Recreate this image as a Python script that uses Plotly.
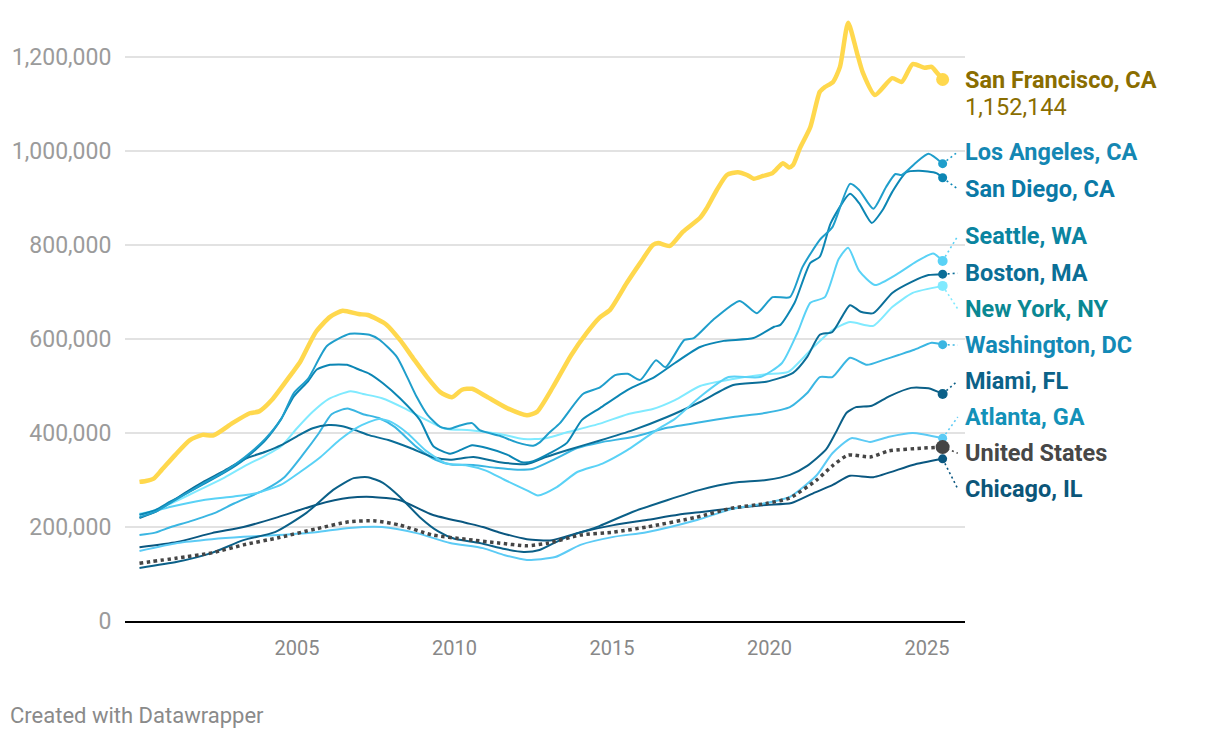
import plotly.graph_objects as go

# ---------------- data (home values, USD) ----------------
sf_x = [2000.0, 2000.2, 2000.45, 2000.7, 2001.13, 2001.6, 2002.0, 2002.35, 2002.95, 2003.5, 2003.8, 2004.2,
        2004.85, 2005.1, 2005.6, 2006.05, 2006.45, 2006.95, 2007.25, 2007.85, 2008.27, 2008.68, 2009.13,
        2009.55, 2009.92, 2010.24, 2010.56, 2011.03, 2011.67, 2012.3, 2012.62, 2013.13, 2013.7, 2014.2,
        2014.6, 2014.94, 2015.47, 2015.9, 2016.3, 2016.47, 2016.84, 2017.25, 2017.8, 2018.0, 2018.33,
        2018.65, 2019.0, 2019.29, 2019.5, 2019.8, 2020.1, 2020.43, 2020.62, 2020.75, 2020.97, 2021.3,
        2021.6, 2021.76, 2022.02, 2022.24, 2022.5, 2022.78, 2022.97, 2023.35, 2023.9, 2024.2, 2024.55,
        2024.93, 2025.15, 2025.3, 2025.5]
sf_v = [296000, 298000, 303000, 321000, 353000, 385000, 396000, 395000, 421000, 442000, 446000, 470000,
        528000, 551000, 615000, 647000, 660000, 653000, 651000, 630000, 598000, 560000, 519000,
        487000, 476000, 492000, 494000, 477000, 453000, 438000, 445000, 498000, 565000, 613000,
        645000, 662000, 719000, 762000, 800000, 804000, 798000, 828000, 858000, 877000, 917000,
        949000, 955000, 949000, 941000, 947000, 953000, 974000, 965000, 970000, 1006000, 1051000,
        1126000, 1136000, 1147000, 1179000, 1273000, 1209000, 1166000, 1119000, 1155000, 1147000, 1185000,
        1177000, 1179000, 1168000, 1152144]

la_x = [2000.0, 2000.5, 2001.0, 2001.5, 2002.0, 2002.7, 2003.35, 2004.0, 2004.5, 2004.9, 2005.35, 2005.95,
        2006.68, 2007.3, 2007.63, 2008.17, 2008.5, 2008.8, 2009.15, 2009.55, 2009.86, 2010.17, 2010.56,
        2010.8, 2011.44, 2011.98, 2012.5, 2012.71, 2013.0, 2013.35, 2014.08, 2014.62, 2015.1, 2015.5,
        2015.9, 2016.4, 2016.7, 2017.3, 2017.6, 2018.2, 2019.06, 2019.6, 2020.1, 2020.65, 2021.05, 2021.6,
        2022.0, 2022.56, 2022.85, 2023.3, 2023.7, 2024.0, 2024.2, 2024.65, 2025.05, 2025.5]
la_v = [221000, 232000, 252000, 272000, 292000, 318000, 349000, 388000, 430000, 485000, 515000, 585000,
        611000, 609000, 598000, 562000, 519000, 477000, 438000, 413000, 409000, 416000, 421000,
        406000, 394000, 380000, 373000, 380000, 400000, 421000, 483000, 497000, 523000, 526000,
        513000, 555000, 540000, 598000, 602000, 640000, 681000, 655000, 689000, 689000, 753000, 811000,
        838000, 930000, 917000, 877000, 923000, 951000, 949000, 975000, 994000, 973000]

sd_x = [2000.0, 2000.5, 2001.0, 2001.5, 2002.0, 2002.7, 2003.35, 2004.0, 2004.5, 2004.9, 2005.35, 2005.63,
        2006.05, 2006.59, 2007.0, 2007.3, 2007.73, 2008.27, 2008.9, 2009.33, 2009.86, 2010.2, 2010.56,
        2011.03, 2011.67, 2012.14, 2012.5, 2013.03, 2013.57, 2014.05, 2014.62, 2015.5, 2016.35, 2017.0,
        2017.8, 2018.55, 2019.5, 2020.15, 2020.35, 2020.8, 2021.3, 2021.6, 2021.95, 2022.56, 2022.85,
        2023.25, 2023.6, 2023.9, 2024.35, 2024.75, 2025.3, 2025.5]
sd_v = [226000, 236000, 255000, 272000, 290000, 316000, 345000, 385000, 430000, 478000, 510000, 535000,
        545000, 545000, 534000, 526000, 506000, 474000, 428000, 372000, 356000, 364000, 374000,
        368000, 354000, 338000, 340000, 357000, 379000, 428000, 453000, 492000, 519000, 549000,
        583000, 596000, 602000, 626000, 630000, 677000, 762000, 775000, 847000, 909000, 889000,
        847000, 875000, 913000, 955000, 958000, 953000, 943000]

sea_x = [2000.0, 2000.5, 2001.0, 2002.0, 2003.0, 2003.7, 2004.5, 2005.1, 2005.75, 2006.35, 2006.95, 2007.6,
         2008.0, 2008.5, 2009.1, 2009.75, 2010.4, 2011.0, 2011.6, 2012.3, 2012.65, 2013.25, 2013.9, 2014.7,
         2015.5, 2016.5, 2017.0, 2017.8, 2018.7, 2019.7, 2020.4, 2020.9, 2021.3, 2021.76, 2022.2, 2022.5,
         2022.85, 2023.35, 2024.1, 2024.65, 2025.2, 2025.5]
sea_v = [226000, 234000, 243000, 257000, 265000, 272000, 290000, 317000, 349000, 385000, 413000, 430000,
         423000, 400000, 362000, 335000, 331000, 320000, 300000, 278000, 267000, 285000, 317000, 335000,
         364000, 410000, 430000, 477000, 519000, 519000, 549000, 615000, 677000, 689000, 770000, 794000,
         745000, 715000, 740000, 764000, 782000, 766000]

bos_x = [2000.0, 2000.5, 2001.0, 2001.5, 2002.0, 2002.7, 2003.35, 2004.0, 2004.5, 2005.0, 2005.5, 2006.0,
         2006.4, 2006.9, 2007.25, 2007.9, 2008.6, 2009.3, 2009.86, 2010.6, 2011.44, 2012.3, 2012.9, 2013.6,
         2014.62, 2015.67, 2016.75, 2017.8, 2018.85, 2019.9, 2020.75, 2021.2, 2021.6, 2022.0, 2022.56,
         2022.9, 2023.3, 2023.9, 2024.5, 2025.05, 2025.5]
bos_v = [219000, 232000, 253000, 275000, 295000, 320000, 345000, 360000, 374000, 393000, 410000, 417000,
         415000, 405000, 396000, 385000, 368000, 349000, 343000, 349000, 338000, 334000, 349000, 364000,
         384000, 406000, 434000, 466000, 502000, 509000, 528000, 562000, 609000, 615000, 672000,
         658000, 655000, 698000, 721000, 736000, 738000]

ny_x = [2000.0, 2000.5, 2001.0, 2001.5, 2002.0, 2002.7, 2003.35, 2004.0, 2004.5, 2005.0, 2005.5, 2006.0,
        2006.7, 2007.1, 2007.7, 2008.4, 2009.1, 2009.7, 2010.5, 2011.44, 2012.2, 2012.9, 2013.6, 2014.62,
        2015.5, 2016.3, 2017.0, 2017.8, 2018.85, 2019.9, 2020.6, 2021.4, 2022.0, 2022.56, 2023.3, 2023.9,
        2024.55, 2025.5]
ny_v = [228000, 236000, 250000, 266000, 282000, 305000, 330000, 352000, 372000, 410000, 445000, 472000,
        489000, 483000, 474000, 453000, 428000, 409000, 406000, 398000, 387000, 389000, 402000, 420000,
        440000, 451000, 470000, 500000, 515000, 525000, 530000, 583000, 619000, 636000, 628000, 668000,
        698000, 713000]

dc_x = [2000.0, 2000.5, 2001.0, 2001.6, 2002.4, 2003.0, 2004.0, 2004.6, 2005.2, 2005.7, 2006.1, 2006.6,
        2007.1, 2007.6, 2008.1, 2008.8, 2009.4, 2009.9, 2010.6, 2011.3, 2012.0, 2012.5, 2013.2, 2013.9,
        2014.62, 2015.7, 2016.75, 2017.8, 2018.85, 2019.9, 2020.65, 2021.2, 2021.6, 2022.0, 2022.56,
        2023.1, 2023.6, 2024.1, 2024.6, 2025.15, 2025.5]
dc_v = [183000, 188000, 200000, 212000, 230000, 250000, 280000, 306000, 355000, 400000, 440000, 452000,
        440000, 432000, 413000, 370000, 343000, 333000, 332000, 326000, 322000, 324000, 345000, 368000,
        380000, 392000, 411000, 423000, 434000, 443000, 455000, 485000, 519000, 519000, 560000,
        545000, 555000, 566000, 577000, 592000, 588000]

mia_x = [2000.0, 2001.2, 2002.3, 2003.3, 2004.3, 2005.3, 2006.15, 2006.8, 2007.25, 2007.73, 2008.27, 2008.9,
         2009.5, 2010.0, 2010.8, 2011.6, 2012.2, 2012.7, 2013.5, 2014.6, 2015.65, 2016.75, 2017.8, 2018.85,
         2019.9, 2020.65, 2021.2, 2021.8, 2022.1, 2022.45, 2022.75, 2023.25, 2023.8, 2024.5, 2025.05, 2025.5]
mia_v = [113000, 126000, 145000, 172000, 189000, 230000, 279000, 304000, 306000, 294000, 264000, 221000,
         190000, 175000, 166000, 153000, 147000, 151000, 177000, 202000, 232000, 257000, 279000, 294000,
         300000, 311000, 330000, 365000, 400000, 443000, 455000, 458000, 478000, 496000, 495000, 483000]

atl_x = [2000.0, 2001.2, 2002.3, 2003.3, 2004.4, 2005.6, 2006.65, 2007.7, 2008.8, 2009.86, 2010.9, 2011.6,
         2012.3, 2013.2, 2014.0, 2015.05, 2016.1, 2017.7, 2018.8, 2019.9, 2020.65, 2021.5, 2022.0, 2022.6,
         2023.2, 2023.8, 2024.55, 2025.5]
atl_v = [149000, 166000, 174000, 179000, 183000, 189000, 198000, 200000, 187000, 166000, 155000, 140000,
         130000, 136000, 162000, 179000, 189000, 215000, 238000, 251000, 264000, 310000, 357000, 389000,
         381000, 392000, 400000, 389000]

us_x = [2000.0, 2001.2, 2002.3, 2003.3, 2004.4, 2005.6, 2006.65, 2007.5, 2008.27, 2009.3, 2010.35, 2011.4,
        2012.3, 2013.0, 2014.0, 2015.05, 2016.1, 2017.7, 2018.8, 2019.9, 2020.65, 2021.5, 2022.0, 2022.5,
        2023.2, 2023.8, 2024.9, 2025.5]
us_v = [123000, 134000, 145000, 162000, 177000, 196000, 211000, 213000, 204000, 183000, 174000, 166000,
        160000, 166000, 183000, 189000, 200000, 221000, 240000, 250000, 262000, 300000, 330000, 353000,
        349000, 362000, 368000, 370000]

chi_x = [2000.0, 2001.2, 2002.3, 2003.3, 2004.4, 2005.6, 2006.65, 2007.4, 2008.27, 2009.3, 2010.35, 2010.9,
         2011.4, 2012.3, 2013.1, 2014.0, 2015.05, 2016.1, 2017.1, 2017.85, 2018.85, 2019.9, 2020.7, 2021.4,
         2022.0, 2022.56, 2023.3, 2024.55, 2025.5]
chi_v = [157000, 168000, 187000, 200000, 221000, 247000, 262000, 264000, 257000, 226000, 209000, 200000,
         189000, 174000, 172000, 189000, 204000, 215000, 226000, 232000, 240000, 247000, 251000, 272000,
         289000, 309000, 306000, 332000, 345000]

names = ["San Francisco, CA", "Los Angeles, CA", "San Diego, CA", "Seattle, WA", "Boston, MA",
         "New York, NY", "Washington, DC", "Miami, FL", "Atlanta, GA", "United States", "Chicago, IL"]

year_ticks = [2005, 2010, 2015, 2020, 2025]
y_ticks = [0, 200000, 400000, 600000, 800000, 1000000, 1200000]

# ---------------- styles ----------------
series = {
    "San Francisco, CA": dict(x=sf_x, y=sf_v, line="#ffd84d", label="#8a6d00", width=4.5, dot=13),
    "Los Angeles, CA": dict(x=la_x, y=la_v, line="#1f9ecb", label="#1487b3", width=2, dot=9),
    "San Diego, CA": dict(x=sd_x, y=sd_v, line="#0c86b4", label="#0a79a6", width=2, dot=9),
    "Seattle, WA": dict(x=sea_x, y=sea_v, line="#5ad2f6", label="#0a84a0", width=2, dot=10),
    "Boston, MA": dict(x=bos_x, y=bos_v, line="#0b6e98", label="#0b6f96", width=2, dot=9),
    "New York, NY": dict(x=ny_x, y=ny_v, line="#80eaff", label="#0a8893", width=2, dot=10),
    "Washington, DC": dict(x=dc_x, y=dc_v, line="#3ab6e2", label="#1389b6", width=2, dot=9),
    "Miami, FL": dict(x=mia_x, y=mia_v, line="#0b6088", label="#0b6288", width=2, dot=10),
    "Atlanta, GA": dict(x=atl_x, y=atl_v, line="#5ccbf5", label="#1391b8", width=2, dot=9),
    "United States": dict(x=us_x, y=us_v, line="#454545", label="#474747", width=3.5, dot=14),
    "Chicago, IL": dict(x=chi_x, y=chi_v, line="#0a5780", label="#0b5679", width=2, dot=9),
}

# label anchor positions (data units) on the right
label_y = {
    "San Francisco, CA": 1151000, "Los Angeles, CA": 998000, "San Diego, CA": 919000,
    "Seattle, WA": 819000, "Boston, MA": 740000, "New York, NY": 664000,
    "Washington, DC": 587000, "Miami, FL": 511000, "Atlanta, GA": 434000,
    "United States": 357000, "Chicago, IL": 281000,
}
leader_end_x = 2025.98

FONT = "Roboto, 'Noto Sans', Arial, sans-serif"
LABEL_SIZE = 23.5

fig = go.Figure()

draw_order = ["Chicago, IL", "Atlanta, GA", "Miami, FL", "Washington, DC", "New York, NY", "Boston, MA",
              "Seattle, WA", "San Diego, CA", "Los Angeles, CA", "United States", "San Francisco, CA"]

for n in draw_order:
    s = series[n]
    if n == "United States":
        line = dict(color=s["line"], width=s["width"], dash="dot", shape="spline", smoothing=0.6)
    else:
        line = dict(color=s["line"], width=s["width"], shape="spline", smoothing=0.6)
    fig.add_trace(go.Scatter(x=s["x"], y=s["y"], mode="lines", line=line, hoverinfo="skip",
                             showlegend=False))
    if n != "San Francisco, CA":
        fig.add_trace(go.Scatter(x=[s["x"][-1], leader_end_x], y=[s["y"][-1], label_y[n]], mode="lines",
                                 line=dict(color=s["line"], width=1.6, dash="2px,3px"),
                                 hoverinfo="skip", showlegend=False, cliponaxis=False))
    fig.add_trace(go.Scatter(x=[s["x"][-1]], y=[s["y"][-1]], mode="markers",
                             marker=dict(color=s["line"], size=s["dot"]), hoverinfo="skip",
                             showlegend=False, cliponaxis=False))

annotations = []
for n in names:
    s = series[n]
    annotations.append(dict(xref="paper", x=1.0, xshift=-2, yref="y", y=label_y[n], xanchor="left",
                            yanchor="middle", showarrow=False, text="<b>%s</b>" % n,
                            font=dict(family=FONT, size=LABEL_SIZE, color=s["label"])))
annotations.append(dict(xref="paper", x=1.0, xshift=-2, yref="y", y=1094000, xanchor="left",
                        yanchor="middle", showarrow=False, text=f"{sf_v[-1]:,}",
                        font=dict(family=FONT, size=LABEL_SIZE, color=series["San Francisco, CA"]["label"])))
annotations.append(dict(xref="paper", x=0, xshift=-117, yref="paper", y=0, yshift=-94,
                        xanchor="left", yanchor="middle", showarrow=False,
                        text="Created with Datawrapper",
                        font=dict(family=FONT, size=22, color="#8a8a8a")))

# page body adds an 8px margin, so the figure is sized/offset to compensate
fig.update_layout(
    width=1212, height=730,
    margin=dict(l=117, r=255, t=2, b=117, pad=0),
    paper_bgcolor="white", plot_bgcolor="white",
    font=dict(family=FONT),
    annotations=annotations,
    xaxis=dict(range=[1999.54, 2026.21], tickvals=year_ticks, ticktext=[str(t) for t in year_ticks],
               showgrid=False, zeroline=False, showline=True, linecolor="#000000", linewidth=2,
               ticks="outside", ticklen=8, tickcolor="rgba(0,0,0,0)",
               tickfont=dict(family=FONT, size=20, color="#888888"), fixedrange=True),
    yaxis=dict(range=[0, 1300000], tickvals=y_ticks, tickformat=",d", showgrid=True,
               gridcolor="#e2e2e2", gridwidth=1.5, zeroline=False, showline=False,
               ticks="outside", ticklen=8, tickcolor="rgba(0,0,0,0)",
               tickfont=dict(family=FONT, size=23, color="#9b9b9b"), fixedrange=True),
)

fig.write_html("out.html")
